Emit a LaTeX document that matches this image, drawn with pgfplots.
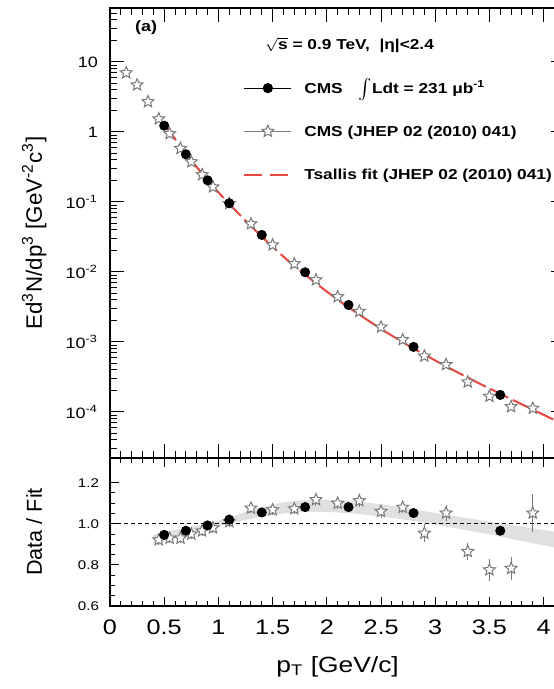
\documentclass[border=0pt]{standalone}
\usepackage{graphicx}
\usepackage{pgfplots}
\usepackage{pgfplotstable}
\pgfplotsset{compat=1.18}
\usepackage{fontspec}
\setmainfont[FakeStretch=1.2]{Liberation Sans}

\definecolor{fitred}{RGB}{228,72,62}
\definecolor{stargray}{RGB}{120,120,120}
\definecolor{bandgray}{RGB}{224,224,224}

% open five-pointed star
\pgfdeclareplotmark{ostar}{%
  \pgfpathmoveto{\pgfpointpolar{90}{\pgfplotmarksize}}%
  \pgfpathlineto{\pgfpointpolar{126}{0.45\pgfplotmarksize}}%
  \pgfpathlineto{\pgfpointpolar{162}{\pgfplotmarksize}}%
  \pgfpathlineto{\pgfpointpolar{198}{0.45\pgfplotmarksize}}%
  \pgfpathlineto{\pgfpointpolar{234}{\pgfplotmarksize}}%
  \pgfpathlineto{\pgfpointpolar{270}{0.45\pgfplotmarksize}}%
  \pgfpathlineto{\pgfpointpolar{306}{\pgfplotmarksize}}%
  \pgfpathlineto{\pgfpointpolar{342}{0.45\pgfplotmarksize}}%
  \pgfpathlineto{\pgfpointpolar{18}{\pgfplotmarksize}}%
  \pgfpathlineto{\pgfpointpolar{54}{0.45\pgfplotmarksize}}%
  \pgfpathclose
  \pgfusepathqfillstroke
}

% CMS, 231 mub^-1: pT, invariant yield, ratio to the Tsallis fit
\pgfplotstableread{
pt   val       ratio
0.5  1.23      0.946
0.7  0.480     0.966
0.9  0.204     0.992
1.1  0.0958    1.020
1.4  0.0338    1.055
1.8  0.0099    1.081
2.2  0.00338   1.081
2.8  0.00085   1.052
3.6  0.000175  0.966
}\cmsnew

% CMS, JHEP 02 (2010) 041: pT, invariant yield
\pgfplotstableread{
pt    val
0.15  7.0
0.25  4.7
0.35  2.7
0.45  1.537
0.55  0.946
0.65  0.581
0.75  0.375
0.85  0.245
0.95  0.164
1.1   0.0949
1.3   0.0487
1.5   0.02435
1.7   0.01308
1.9   0.00771
2.1   0.00443
2.3   0.00273
2.5   0.00163
2.7   0.001078
2.9   0.000628
3.1   0.000475
3.3   0.000268
3.5   0.0001676
3.7   0.000119
3.9   0.000113
}\cmsold

% CMS, JHEP 02 (2010) 041: ratio to the fit with its error
\pgfplotstableread{
pt    ratio  err
0.45  0.922  0.025
0.55  0.930  0.025
0.65  0.930  0.025
0.75  0.950  0.025
0.85  0.965  0.025
0.95  0.980  0.025
1.1   1.010  0.025
1.3   1.076  0.025
1.5   1.068  0.025
1.7   1.073  0.025
1.9   1.117  0.030
2.1   1.100  0.030
2.3   1.112  0.030
2.5   1.060  0.030
2.7   1.080  0.030
2.9   0.954  0.045
3.1   1.052  0.040
3.3   0.865  0.043
3.5   0.776  0.053
3.7   0.783  0.055
3.9   1.052  0.093
}\cmsoldratio

% Tsallis fit, JHEP 02 (2010) 041
\pgfplotstableread{
pt   val
0.5  1.300
0.6  0.794
0.7  0.497
0.8  0.316
0.9  0.206
1.0  0.1374
1.1  0.0940
1.2  0.0649
1.3  0.0453
1.4  0.0320
1.6  0.01656
1.8  0.00916
2.0  0.00524
2.2  0.00313
2.5  0.001538
2.8  0.000807
3.2  0.000372
3.6  0.0001816
4.0  0.0000910
4.2  0.0000647
}\tsallis

\pgfplotsset{
  every axis/.append style={
    axis line style={line width=0.6pt},
    every tick/.style={black, line width=0.5pt},
  },
  newpt/.style={only marks, mark=*, mark size=2.3pt,
    mark options={fill=black, draw=black}},
  oldpt/.style={only marks, mark=ostar, mark size=3.1pt,
    mark options={fill=white, draw=stargray, line width=0.5pt}},
}

\begin{document}
\begin{tikzpicture}
% spectrum
\begin{axis}[
  at={(55pt,115.5pt)}, anchor=south west,
  scale only axis, width=227.65pt, height=225pt,
  xmin=0, xmax=4.2, ymode=log, ymin=2.2e-5, ymax=59,
  xtick={0,0.5,...,4}, xticklabels={}, minor x tick num=4,
  ytick={1e-4,1e-3,1e-2,1e-1,1,10},
  yticklabels={10\textsuperscript{-4},10\textsuperscript{-3},10\textsuperscript{-2},10\textsuperscript{-1},1,10},
  minor ytick={3e-5,4e-5,5e-5,6e-5,7e-5,8e-5,9e-5,
    2e-4,3e-4,4e-4,5e-4,6e-4,7e-4,8e-4,9e-4,
    2e-3,3e-3,4e-3,5e-3,6e-3,7e-3,8e-3,9e-3,
    2e-2,3e-2,4e-2,5e-2,6e-2,7e-2,8e-2,9e-2,
    0.2,0.3,0.4,0.5,0.6,0.7,0.8,0.9,
    2,3,4,5,6,7,8,9,20,30,40,50},
  major tick length=7pt, minor tick length=3.5pt,
  yticklabel style={font=\fontsize{7.5}{8}\selectfont, xshift=-2.5pt},
  ylabel={\scalebox{1}[1.2]{Ed\textsuperscript{3}N/dp\textsuperscript{3} [GeV\textsuperscript{-2}c\textsuperscript{3}]}},
  ylabel style={at={(axis description cs:-0.1494,0.5)}, anchor=base,
    font=\fontsize{9.3}{11}\selectfont},
  legend style={draw=none, fill=none, at={(axis description cs:0.292,0.845)},
    anchor=north west, font=\bfseries\fontsize{7.2}{8}\selectfont,
    row sep=11.6pt, inner sep=0pt,
    nodes={inner sep=0pt, text height=0.75em, text depth=0.25em}},
  legend cell align=left,
  legend image code/.code={
    \draw[mark repeat=2, mark phase=2, #1] plot coordinates {(0pt,0pt) (11.75pt,0pt) (23.5pt,0pt)};
    \path (29.5pt,0pt);
  },
]
\addlegendimage{black, line width=0.5pt, mark=*, mark size=2.3pt, mark options={solid, fill=black}}
\addlegendentry{CMS\hspace{8pt}$\int$Ldt = 231 μb\textsuperscript{-1}}
\addlegendimage{stargray, line width=0.5pt, mark=ostar, mark size=3.1pt, mark options={solid, fill=white, draw=stargray}}
\addlegendentry{CMS (JHEP 02 (2010) 041)}
\addlegendimage{fitred, line width=1pt, dash pattern=on 9pt off 4pt}
\addlegendentry{Tsallis fit (JHEP 02 (2010) 041)}

\addplot[fitred, line width=1pt, dash pattern=on 10pt off 2.5pt, smooth, forget plot] table[x=pt, y=val] {\tsallis};
\addplot[oldpt, forget plot] table[x=pt, y=val] {\cmsold};
\addplot[newpt, forget plot] table[x=pt, y=val] {\cmsnew};

\node[anchor=west, font=\bfseries\fontsize{7.2}{8}\selectfont] at (axis cs:1.365,17.5)
  {$\sqrt{\mbox{s}}$ = 0.9 TeV,\ \ |η|<2.4};
\node[anchor=west, font=\bfseries\fontsize{7.5}{8}\selectfont] at (axis cs:0.166,30.6) {(a)};
\end{axis}

% ratio panel
\begin{axis}[
  at={(55pt,41.5pt)}, anchor=south west,
  scale only axis, width=227.65pt, height=74pt,
  xmin=0, xmax=4.2, ymin=0.6, ymax=1.32,
  xtick={0,0.5,...,4}, xticklabels={0,0.5,1,1.5,2,2.5,3,3.5,4}, minor x tick num=4,
  ytick={0.6,0.8,1.0,1.2}, yticklabels={0.6,0.8,1.0,1.2}, minor y tick num=3,
  major tick length=4.5pt, minor tick length=2.5pt,
  xticklabel style={font=\fontsize{10.5}{12}\selectfont, anchor=base, yshift=-14.5pt},
  yticklabel style={font=\fontsize{6.3}{7}\selectfont, xshift=-2pt},
  xlabel={p\textsubscript{T} [GeV/c]},
  xlabel style={at={(axis description cs:0.5,-0.446)}, anchor=base,
    font=\fontsize{11}{13}\selectfont},
  ylabel={\scalebox{1}[1.2]{Data / Fit}},
  ylabel style={at={(axis description cs:-0.1494,0.5)}, anchor=base,
    font=\fontsize{9}{11}\selectfont},
]
% uncertainty band of the new fit relative to the old one
\addplot[fill=bandgray, draw=none] coordinates {
  (0.40,0.948) (0.5,0.960) (0.7,0.980) (0.9,1.000) (1.1,1.030) (1.35,1.075)
  (1.6,1.105) (1.8,1.115) (2.0,1.117) (2.25,1.110) (2.5,1.095) (2.75,1.075)
  (3.0,1.052) (3.3,1.027) (3.6,1.002) (3.9,0.978) (4.2,0.952)
  (4.2,0.875) (3.9,0.905) (3.6,0.938) (3.3,0.968) (3.0,0.996) (2.75,1.018)
  (2.5,1.035) (2.25,1.050) (2.0,1.058) (1.8,1.058) (1.6,1.050) (1.35,1.030)
  (1.1,1.000) (0.9,0.975) (0.7,0.945) (0.5,0.915) (0.4,0.898)} -- cycle;
\addplot[black, line width=0.5pt, dash pattern=on 2pt off 1.5pt] coordinates {(0,1) (4.2,1)};
\addplot[oldpt, error bars/.cd, y dir=both, y explicit,
  error bar style={stargray, line width=0.5pt}, error mark=none]
  table[x=pt, y=ratio, y error=err] {\cmsoldratio};
\addplot[newpt] table[x=pt, y=ratio] {\cmsnew};
\end{axis}

\pgfresetboundingbox
\path[use as bounding box] (0,0) rectangle (276.5pt,344.5pt);
\end{tikzpicture}
\end{document}
